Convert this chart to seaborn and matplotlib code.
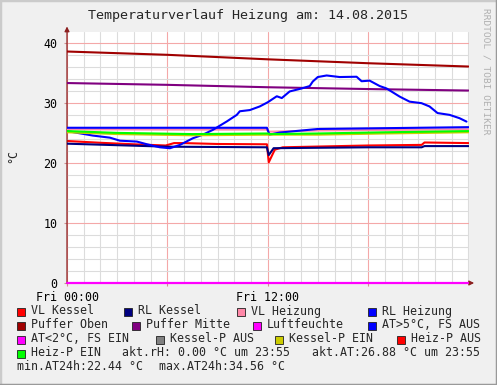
import pandas as pd
import seaborn as sns
import matplotlib.pyplot as plt
from matplotlib.patches import Rectangle
from matplotlib.lines import Line2D

# hours since Fri 00:00, temperatures in °C
puffer_oben_h = [0, 6, 12, 18, 24]
puffer_oben = [38.55, 38.0, 37.25, 36.6, 36.05]

puffer_mitte_h = [0, 6, 12, 18, 24]
puffer_mitte = [33.3, 33.0, 32.6, 32.3, 32.05]

vl_heizung_h = [0, 6, 11.9, 12.1, 15, 24]
vl_heizung = [25.6, 25.55, 25.55, 25.2, 25.4, 25.6]

rl_heizung_h = [0, 6, 11.95, 12.1, 12.7, 15, 19.5, 24]
rl_heizung = [25.85, 25.85, 25.85, 24.7, 25.05, 25.65, 25.8, 25.95]

kessel_p_ein_h = [0, 3, 7.5, 12, 15, 19, 24]
kessel_p_ein = [25.1, 24.8, 24.6, 24.7, 24.7, 24.9, 25.1]

heiz_p_ein_h = [0, 3, 7.5, 12, 12.1, 15, 19, 24]
heiz_p_ein = [25.3, 25.0, 24.8, 24.9, 24.8, 24.9, 25.1, 25.3]

vl_kessel_h = [0, 2, 4, 5.9, 6.4, 7, 9, 11.95, 12.06, 12.42, 12.9, 18, 21.2, 21.37, 24]
vl_kessel = [23.65, 23.35, 23.1, 22.9, 23.3, 23.3, 23.15, 23.1, 20.1, 22.2, 22.6, 22.9, 23.0, 23.4, 23.3]

rl_kessel_h = [0, 6, 11.95, 12.06, 12.35, 18, 21.2, 21.37, 24]
rl_kessel = [23.2, 22.7, 22.6, 21.3, 22.45, 22.6, 22.6, 22.8, 22.8]

luftfeuchte_h = [0, 24]
luftfeuchte = [0.0, 0.0]

at_h = [0, 1.55, 2.57, 3.16, 4.18, 4.78, 5.55, 6.15, 6.75, 7.52, 8.12, 8.72, 9.55,
        10.15, 10.33, 10.93, 11.52, 12.0, 12.54, 12.84, 13.31, 14.03, 14.51, 14.69,
        14.99, 15.52, 16.3, 17.31, 17.61, 18.09, 18.69, 19.1, 19.88, 20.48, 21.19,
        21.67, 22.15, 22.87, 23.46, 23.88]
at_temp = [25.3, 24.55, 24.2, 23.7, 23.55, 23.1, 22.6, 22.44, 23.0, 24.1, 24.7, 25.5, 26.9,
           28.0, 28.6, 28.8, 29.4, 30.1, 31.1, 30.8, 31.9, 32.4, 32.8, 33.55,
           34.3, 34.56, 34.3, 34.35, 33.6, 33.7, 32.8, 32.4, 31.05, 30.2, 29.95,
           29.4, 28.3, 28.0, 27.45, 26.88]

x_ticks = [0, 6, 12, 18]
x_labels = ['Fri 00:00', '', 'Fri 12:00', '']
y_ticks = [0, 10, 20, 30, 40]

legend_rows = [
    [('VL Kessel', '#ff0000'), ('RL Kessel', '#000080'), ('VL Heizung', '#ff88a8'), ('RL Heizung', '#0000ff')],
    [('Puffer Oben', '#a00000'), ('Puffer Mitte', '#800080'), ('Luftfeuchte', '#ff00ff'), ('AT>5°C, FS AUS', '#0000ff')],
    [('AT<2°C, FS EIN', '#ff00ff'), ('Kessel-P AUS', '#808080'), ('Kessel-P EIN', '#cccc00'), ('Heiz-P AUS', '#ff0000')],
    [('Heiz-P EIN', '#00ff00')],
]
legend_x = [[17, 124, 237, 368], [17, 132, 253, 368], [17, 156, 275, 397], [17]]
info_texts = [(122, 353, 'akt.rH: 0.00 °C um 23:55'), (312, 353, 'akt.AT:26.88 °C um 23:55'),
              (17, 367, 'min.AT24h:22.44 °C'), (159, 367, 'max.AT24h:34.56 °C')]

sns.set_theme(style='white')
plt.rcParams['font.family'] = ['DejaVu Sans Mono']

W, H = 497, 385
fig = plt.figure(figsize=(W / 100, H / 100), dpi=100, facecolor='#f0f0f0')
ax = fig.add_axes([67 / W, 1 - 283 / H, (468.5 - 67) / W, (283 - 32) / H])
ax.set_facecolor('white')

series = [
    (vl_kessel_h, vl_kessel, '#ff0000'),
    (rl_kessel_h, rl_kessel, '#000080'),
    (vl_heizung_h, vl_heizung, '#ff88a8'),
    (rl_heizung_h, rl_heizung, '#0000ff'),
    (puffer_oben_h, puffer_oben, '#a00000'),
    (puffer_mitte_h, puffer_mitte, '#800080'),
    (at_h, at_temp, '#0000ff'),
    (kessel_p_ein_h, kessel_p_ein, '#cccc00'),
    (heiz_p_ein_h, heiz_p_ein, '#00ff00'),
]
for i, (xs, ys, c) in enumerate(series):
    sns.lineplot(x=xs, y=ys, color=c, linewidth=1.5, estimator=None, sort=False, ax=ax, zorder=3 + i * 0.1)

sns.lineplot(x=luftfeuchte_h, y=luftfeuchte, color='#ff00ff', linewidth=1.6, estimator=None,
             ax=ax, zorder=5).lines[-1].set_clip_on(False)

ax.set_xlim(0, 24)
ax.set_ylim(0, 41.8)
ax.set_xticks(x_ticks, x_labels)
ax.set_xticks(range(25), minor=True)
ax.set_yticks(y_ticks, [str(v) for v in y_ticks])
ax.set_yticks(range(0, 42, 2), minor=True)
ax.grid(which='minor', color='#dcdcdc', linewidth=0.8, zorder=0)
ax.grid(which='major', color='#f4a8a8', linewidth=0.8, zorder=1)
ax.set_axisbelow(True)
ax.tick_params(which='major', length=2.5, width=0.8, color='#d09090',
               labelsize=8.4, labelcolor='black', bottom=True, left=True)
ax.tick_params(axis='x', which='major', pad=3)
ax.tick_params(axis='y', which='major', pad=4.5)
ax.tick_params(which='minor', length=0)
for lbl in ax.get_yticklabels():
    lbl.set_verticalalignment('center_baseline')
for s in ax.spines.values():
    s.set_visible(False)

# axes with arrows like rrdtool
axis_col = '#8c2020'
ax.annotate('', xy=(1.014, 0), xytext=(0, 0), xycoords='axes fraction',
            arrowprops=dict(arrowstyle='-|>', color=axis_col, lw=0.9, mutation_scale=7, shrinkA=0, shrinkB=0))
ax.annotate('', xy=(0, 1.022), xytext=(0, 0), xycoords='axes fraction',
            arrowprops=dict(arrowstyle='-|>', color=axis_col, lw=0.9, mutation_scale=7, shrinkA=0, shrinkB=0))

fig.text(248.5 / W, 1 - 16 / H, 'Temperaturverlauf Heizung am: 14.08.2015',
         ha='center', va='center', fontsize=9.6)
fig.text(13 / W, 1 - 156 / H, '°C', rotation=90, ha='center', va='center', fontsize=8.4)
fig.text(486 / W, 1 - 8 / H, 'RRDTOOL / TOBI OETIKER', rotation=270, ha='center', va='top',
         fontsize=6.8, color='#b0b0b0')

row_y = [311, 325, 339, 353]
for row, xs, y in zip(legend_rows, legend_x, row_y):
    for (label, c), x in zip(row, xs):
        fig.add_artist(Rectangle((x / W, 1 - (y + 4.5) / H), 8 / W, 8 / H, transform=fig.transFigure,
                                 facecolor=c, edgecolor='#202020', linewidth=0.6))
        fig.text((x + 14) / W, 1 - y / H, label, ha='left', va='center', fontsize=8.4)
for x, y, t in info_texts:
    fig.text(x / W, 1 - y / H, t, ha='left', va='center', fontsize=8.4)

# 3d frame
fig.add_artist(Line2D([0, 0, 1], [0, 1, 1], transform=fig.transFigure, color='#cbcbcb', linewidth=2.5))
fig.add_artist(Line2D([0, 1, 1], [0, 0, 1], transform=fig.transFigure, color='#999999', linewidth=2.5))

plt.savefig('out.png', dpi=100, facecolor=fig.get_facecolor())
